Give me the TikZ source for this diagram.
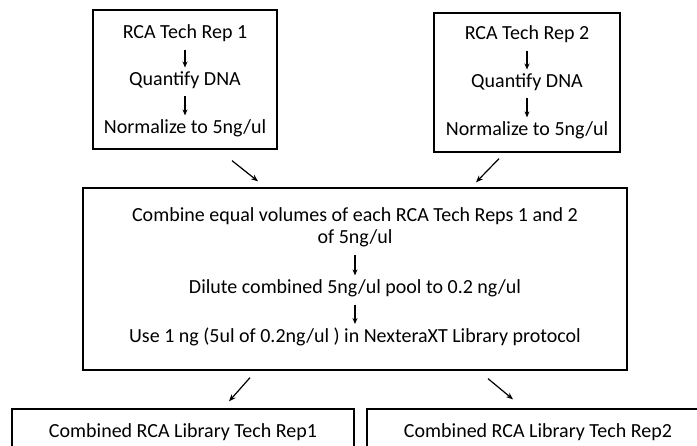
\documentclass[tikz,border=0pt]{standalone}
\usepackage{fontspec}
\setmainfont{Carlito}
\usetikzlibrary{arrows.meta}

\tikzset{
  stepbox/.style={draw, line width=1.3pt, rectangle, inner sep=0pt},
  steptext/.style={inner sep=0.75pt, align=center, font=\fontsize{20}{21.5}\selectfont},
  inarrow/.style={-{Stealth[length=6pt,width=5pt]}, line width=1.3pt, shorten <=7pt, shorten >=3pt},
  outarrow/.style={-{Stealth[length=7pt,width=5.5pt]}, line width=1.2pt}
}

\begin{document}
\begin{tikzpicture}[x=1pt,y=1pt,yscale=-1,xscale=1]
%set diagram size to the reference
\clip (0,0) rectangle (697,446);

%Shape: Rectangle (tech rep 1)
\node [stepbox, minimum width=184pt, minimum height=139pt] (rep1) at (185,79.5) {};
%Shape: Rectangle (tech rep 2)
\node [stepbox, minimum width=186pt, minimum height=139pt] (rep2) at (527,82.5) {};
%Shape: Rectangle (pooling)
\node [stepbox, minimum width=544pt, minimum height=182pt] (pool) at (355,279) {};
%Shape: Rectangle (library 1)
\node [stepbox, minimum width=342pt, minimum height=71pt] (lib1) at (183,444.5) {};
%Shape: Rectangle (library 2)
\node [stepbox, minimum width=342pt, minimum height=71pt] (lib2) at (538,444.5) {};

% Text Node
\node [steptext] (rep1a) at (185,33) {RCA Tech Rep 1};
% Text Node
\node [steptext] (rep1b) at (185,80) {Quantify DNA};
% Text Node
\node [steptext] (rep1c) at (185,128) {Normalize to 5ng/ul};
% Text Node
\node [steptext] (rep2a) at (527,34) {RCA Tech Rep 2};
% Text Node
\node [steptext] (rep2b) at (527,82) {Quantify DNA};
% Text Node
\node [steptext] (rep2c) at (527,130) {Normalize to 5ng/ul};
% Text Node
\node [steptext] (poola) at (355,227.5) {Combine equal volumes of each RCA Tech Reps 1 and 2\\of 5ng/ul};
% Text Node
\node [steptext] (poolb) at (355,288) {Dilute combined 5ng/ul pool to 0.2 ng/ul};
% Text Node
\node [steptext] (poolc) at (355,337) {Use 1 ng (5ul of 0.2ng/ul ) in NexteraXT Library protocol};
% Text Node
\node [steptext] (lib1a) at (183,432) {Combined RCA Library Tech Rep1};
% Text Node
\node [steptext] (lib2a) at (538,432) {Combined RCA Library Tech Rep2};

%Straight Lines (inside the boxes)
\draw [inarrow] (rep1a) -- (rep1b);
\draw [inarrow] (rep1b) -- (rep1c);
\draw [inarrow] (rep2a) -- (rep2b);
\draw [inarrow] (rep2b) -- (rep2c);
\draw [inarrow] (poola) -- (poolb);
\draw [inarrow] (poolb) -- (poolc);

%Straight Lines (between the boxes)
\draw [outarrow] ([xshift=47pt,yshift=11pt]rep1.south) -- ([xshift=-97pt,yshift=-6pt]pool.north);
\draw [outarrow] ([xshift=-28pt,yshift=6pt]rep2.south) -- ([xshift=121pt,yshift=-5pt]pool.north);
\draw [outarrow] ([xshift=-105pt,yshift=7pt]pool.south) -- ([xshift=46pt,yshift=-7pt]lib1.north);
\draw [outarrow] ([xshift=133pt,yshift=8pt]pool.south) -- ([xshift=-25pt,yshift=-9pt]lib2.north);

\end{tikzpicture}
\end{document}
